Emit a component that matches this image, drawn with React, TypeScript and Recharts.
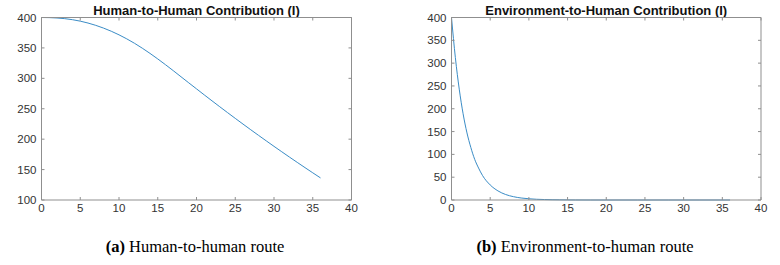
import { LineChart, Line, XAxis, YAxis } from 'recharts';

// (a) human-to-human route
const humanT = [
  0, 1, 2, 3, 4, 5, 6, 7, 8, 9, 10, 11, 12, 13, 14, 15, 16, 17, 18,
  19, 20, 21, 22, 23, 24, 25, 26, 27, 28, 29, 30, 31, 32, 33, 34, 35, 36,
];
const humanI = [
  400, 399.8, 399.2, 398.1, 396.4, 394, 390.9, 387.1, 382.6, 377.4, 371.5, 364.9, 357.6, 349.6, 341, 331.9,
  322.4, 312.6, 302.6, 292.6, 282.7, 272.8, 263, 253.3, 243.7, 234.2, 224.8, 215.5, 206.3, 197.2, 188.2,
  179.3, 170.5, 161.8, 153.2, 144.7, 136.3,
];

// (b) environment-to-human route
const envT = [
  0, 0.5, 1, 1.5, 2, 2.5, 3, 3.5, 4, 5, 6, 7, 8, 9, 10, 11, 12, 13, 14, 15, 16, 18, 20, 24, 28, 32, 36,
];
const envI = [
  400, 312, 243, 189, 147, 115, 89, 70, 54, 33, 20, 12, 7.3, 4.4, 2.7, 1.6, 1, 0.6, 0.4, 0.2, 0.1, 0, 0, 0, 0, 0, 0,
];

const xTicks = [0, 5, 10, 15, 20, 25, 30, 35, 40];
const humanTicks = [100, 150, 200, 250, 300, 350, 400];
const envTicks = [0, 50, 100, 150, 200, 250, 300, 350, 400];

const humanData = humanT.map((t, i) => ({ t, v: humanI[i] }));
const envData = envT.map((t, i) => ({ t, v: envI[i] }));

const BOX = '#8f8f8f';
const LABEL = '#333';
const LINE = '#3a8cc6';
const TICK = 3;
const sans = '"Liberation Sans", Arial, sans-serif';
const serif = '"Liberation Serif", "Times New Roman", serif';

const LeftTick = ({ x, y, payload }: any) => (
  <g>
    <line x1={x + 5} x2={x + 5 + TICK} y1={y} y2={y} stroke={BOX} />
    <text x={x} y={y} dy="0.35em" textAnchor="end" fontSize={11.5} fontFamily={sans} fill={LABEL}>
      {payload.value}
    </text>
  </g>
);

const BottomTick = ({ x, y, payload }: any) => (
  <g>
    <line x1={x} x2={x} y1={y - 4} y2={y - 4 - TICK} stroke={BOX} />
    <text x={x} y={y} dy="0.71em" textAnchor="middle" fontSize={11.5} fontFamily={sans} fill={LABEL}>
      {payload.value}
    </text>
  </g>
);

// top / right axes only carry inward ticks, like a boxed plot
const TopTick = ({ x, y }: any) => <line x1={x} x2={x} y1={y} y2={y + TICK} stroke={BOX} />;
const RightTick = ({ x, y }: any) => <line x1={x - TICK} x2={x} y1={y} y2={y} stroke={BOX} />;

type PanelProps = {
  data: { t: number; v: number }[];
  yTicks: number[];
  yDomain: [number, number];
  yWidth: number;
  right: number;
  title: string;
  tag: string;
  caption: string;
  left: number;
};

const Panel = ({ data, yTicks, yDomain, yWidth, right, title, tag, caption, left }: PanelProps) => {
  const plotL = yWidth;
  const plotR = 390 - right;
  return (
    <div style={{ position: 'absolute', left, top: 0, width: 390, height: 265 }}>
      <div
        style={{
          position: 'absolute',
          left: plotL - 20,
          width: plotR - plotL + 40,
          top: 3,
          textAlign: 'center',
          fontFamily: sans,
          fontWeight: 'bold',
          fontSize: 13,
          lineHeight: '15px',
          color: '#111',
        }}
      >
        {title}
      </div>
      <div style={{ position: 'absolute', top: 0, left: 0 }}>
        <LineChart width={390} height={230} data={data} margin={{ top: 16.5, right: right - 1, left: 0, bottom: 0 }}>
          <XAxis
            dataKey="t"
            type="number"
            domain={[0, 40]}
            ticks={xTicks}
            interval={0}
            height={30}
            tickSize={0}
            tickMargin={4}
            stroke={BOX}
            tick={<BottomTick />}
          />
          <XAxis
            xAxisId="top"
            orientation="top"
            dataKey="t"
            type="number"
            domain={[0, 40]}
            ticks={xTicks}
            interval={0}
            height={1}
            tickSize={0}
            tickMargin={0}
            stroke={BOX}
            tick={<TopTick />}
          />
          <YAxis
            type="number"
            domain={yDomain}
            ticks={yTicks}
            interval={0}
            width={yWidth}
            tickSize={0}
            tickMargin={5}
            stroke={BOX}
            tick={<LeftTick />}
          />
          <YAxis
            yAxisId="right"
            orientation="right"
            type="number"
            domain={yDomain}
            ticks={yTicks}
            interval={0}
            width={1}
            tickSize={0}
            tickMargin={0}
            stroke={BOX}
            tick={<RightTick />}
          />
          {/* invisible copy bound to the top/right axes so they get drawn */}
          <Line
            xAxisId="top"
            yAxisId="right"
            dataKey="v"
            stroke="none"
            dot={false}
            activeDot={false}
            legendType="none"
            isAnimationActive={false}
          />
          <Line
            type="monotone"
            dataKey="v"
            stroke={LINE}
            strokeWidth={1}
            dot={false}
            isAnimationActive={false}
          />
        </LineChart>
      </div>
      <div
        style={{
          position: 'absolute',
          left: 0,
          width: 390,
          top: 237,
          textAlign: 'center',
          fontFamily: serif,
          fontSize: 16.5,
          lineHeight: '19px',
          color: '#000',
        }}
      >
        <b>{tag}</b> {caption}
      </div>
    </div>
  );
};

export default function App() {
  return (
    <div style={{ position: 'absolute', left: 0, top: 0, width: 780, height: 265, background: '#fff' }}>
      <Panel
        left={0}
        data={humanData}
        yTicks={humanTicks}
        yDomain={[100, 400]}
        yWidth={41.5}
        right={38.5}
        title="Human-to-Human Contribution (I)"
        tag="(a)"
        caption="Human-to-human route"
      />
      <Panel
        left={390}
        data={envData}
        yTicks={envTicks}
        yDomain={[0, 400]}
        yWidth={61.5}
        right={19}
        title="Environment-to-Human Contribution (I)"
        tag="(b)"
        caption="Environment-to-human route"
      />
    </div>
  );
}
